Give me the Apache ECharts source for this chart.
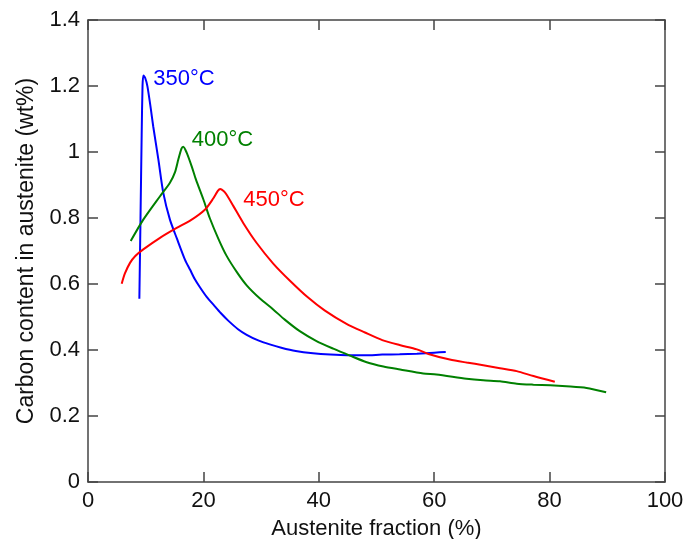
<!DOCTYPE html>
<html>
<head>
<meta charset="utf-8">
<script src="https://cdn.jsdelivr.net/npm/echarts@6/dist/echarts.min.js"></script>
<style>
  html, body { margin: 0; padding: 0; background: #ffffff; }
  #chart { width: 683px; height: 539px; }
</style>
</head>
<body>
<div id="chart"></div>
<script>
// ---- Data ----
var xTicks = [0, 20, 40, 60, 80, 100];
var yTicks = [0, 0.2, 0.4, 0.6, 0.8, 1, 1.2, 1.4];

var seriesNames = ['350°C', '400°C', '450°C'];

var data350 = [
  [8.9,0.555],[9.1,0.80],[9.3,1.05],[9.45,1.20],[9.6,1.232],[9.9,1.225],[10.3,1.199],
  [10.9,1.129],[11.3,1.078],[12.2,0.977],[13.05,0.876],[14.2,0.795],[15.4,0.738],
  [16.8,0.674],[17.7,0.643],[18.5,0.615],[19.4,0.590],[20.6,0.560],[21.7,0.538],
  [23.0,0.512],[24.3,0.489],[26.0,0.463],[27.5,0.446],[29.5,0.429],[31.5,0.417],
  [33.5,0.407],[36.0,0.397],[39.0,0.390],[42,0.386],[45,0.384],[48,0.384],[51,0.386],
  [54,0.387],[57,0.389],[60,0.392],[62,0.394]
];

var data400 = [
  [7.4,0.730],[9.58,0.795],[12.48,0.866],[14.2,0.907],[15.1,0.94],[15.65,0.977],
  [16.2,1.010],[16.5,1.016],[17.1,0.998],[18.0,0.955],[18.7,0.917],[20.0,0.856],
  [21.1,0.800],[22.6,0.737],[24.0,0.686],[25.8,0.636],[27.5,0.596],[29.8,0.556],
  [32.1,0.523],[34.1,0.492],[36.7,0.457],[39.6,0.427],[42.5,0.404],[45.4,0.383],
  [48.3,0.363],[51.2,0.350],[54.1,0.341],[58.1,0.329],[60.4,0.326],[65.6,0.313],
  [68.5,0.308],[71.4,0.305],[74.3,0.298],[77.2,0.295],[80.1,0.293],[82.9,0.290],
  [86.4,0.285],[89.8,0.272]
];

var data450 = [
  [5.84,0.601],[6.4,0.632],[7.28,0.664],[8.2,0.685],[9.58,0.705],[12.48,0.740],
  [15.37,0.770],[17.7,0.792],[20.3,0.826],[21.7,0.859],[22.5,0.882],[22.9,0.888],
  [23.5,0.882],[24.0,0.871],[25.2,0.836],[26.9,0.785],[29.2,0.725],[32.1,0.662],
  [35.0,0.610],[38.2,0.558],[41.0,0.520],[44.8,0.479],[48,0.453],[51.0,0.430],
  [54,0.415],[57.0,0.402],[59,0.388],[62.7,0.371],[65.6,0.362],[68.5,0.354],
  [71.4,0.345],[74.3,0.336],[77.2,0.321],[80.9,0.304]
];

// label anchors (data coordinates of the left end of each curve label)
var labelAnchors = [[11.3, 1.22], [18.0, 1.038], [26.9, 0.856]];

var colors = ['#0000ff', '#008000', '#ff0000'];
var allData = [data350, data400, data450];

var FONT = 'Liberation Sans, Arial, sans-serif';
var axisColor = '#444444';
var textColor = '#111111';

var chart = echarts.init(document.getElementById('chart'), null, { renderer: 'canvas' });

var series = allData.map(function (d, i) {
  return {
    name: seriesNames[i],
    type: 'line',
    data: d,
    xAxisIndex: 0,
    yAxisIndex: 0,
    showSymbol: false,
    symbol: 'none',
    smooth: 0.25,
    lineStyle: { color: colors[i], width: 2 },
    itemStyle: { color: colors[i] },
    animation: false,
    markPoint: {
      symbol: 'circle',
      symbolSize: 0,
      animation: false,
      data: [{
        coord: labelAnchors[i],
        value: seriesNames[i],
        label: {
          show: true,
          position: 'right',
          distance: 0,
          formatter: seriesNames[i],
          color: colors[i],
          fontSize: 22,
          fontFamily: FONT
        }
      }]
    }
  };
});

function mirrorAxis(pos, min, max, interval) {
  return {
    type: 'value',
    position: pos,
    min: min, max: max, interval: interval,
    axisLine: { show: true, onZero: false, lineStyle: { color: axisColor, width: 1.5 } },
    axisTick: { show: true, inside: true, length: 10, lineStyle: { color: axisColor, width: 1.5 } },
    axisLabel: { show: false },
    splitLine: { show: false }
  };
}

var option = {
  backgroundColor: '#ffffff',
  animation: false,
  grid: { left: 88, right: 18, top: 20, bottom: 57, containLabel: false, outerBoundsMode: 'none' },
  xAxis: [
    {
      type: 'value',
      position: 'bottom',
      min: xTicks[0], max: xTicks[xTicks.length - 1], interval: xTicks[1] - xTicks[0],
      name: 'Austenite fraction (%)',
      nameLocation: 'middle',
      nameGap: 36,
      nameTextStyle: { fontSize: 22, color: textColor, fontFamily: FONT },
      axisLine: { show: true, onZero: false, lineStyle: { color: axisColor, width: 1.5 } },
      axisTick: { show: true, inside: true, length: 10, lineStyle: { color: axisColor, width: 1.5 } },
      axisLabel: { fontSize: 22, color: textColor, margin: 8, fontFamily: FONT },
      splitLine: { show: false }
    },
    mirrorAxis('top', xTicks[0], xTicks[xTicks.length - 1], xTicks[1] - xTicks[0])
  ],
  yAxis: [
    {
      type: 'value',
      position: 'left',
      min: yTicks[0], max: yTicks[yTicks.length - 1], interval: 0.2,
      name: 'Carbon content in austenite (wt%)',
      nameLocation: 'middle',
      nameGap: 49,
      nameTextStyle: { fontSize: 23, color: textColor, fontFamily: FONT },
      axisLine: { show: true, onZero: false, lineStyle: { color: axisColor, width: 1.5 } },
      axisTick: { show: true, inside: true, length: 10, lineStyle: { color: axisColor, width: 1.5 } },
      axisLabel: {
        fontSize: 22, color: textColor, margin: 8, fontFamily: FONT,
        formatter: function (v) { return String(Math.round(v * 10) / 10); }
      },
      splitLine: { show: false }
    },
    mirrorAxis('right', yTicks[0], yTicks[yTicks.length - 1], 0.2)
  ],
  series: series
};

chart.setOption(option);
</script>
</body>
</html>
